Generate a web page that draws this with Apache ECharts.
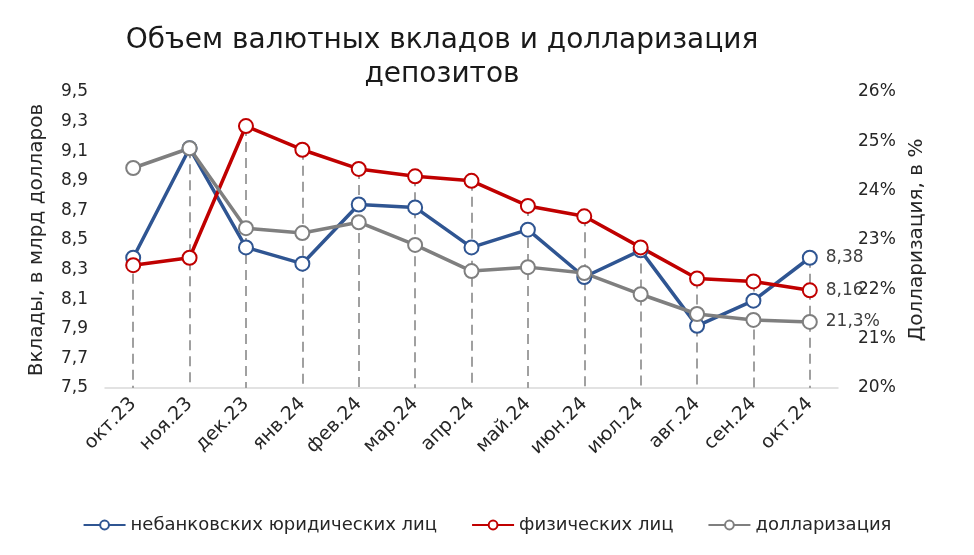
<!DOCTYPE html>
<html>
<head>
<meta charset="utf-8">
<script src="https://cdn.jsdelivr.net/npm/echarts@6/dist/echarts.min.js"></script>
<style>html,body{margin:0;padding:0;background:#fff}#c{width:974px;height:555px}</style>
</head>
<body>
<div id="c"></div>
<script>
const categories = ['окт.23','ноя.23','дек.23','янв.24','фев.24','мар.24','апр.24','май.24','июн.24','июл.24','авг.24','сен.24','окт.24'];
const legalVals = [8.38, 9.12, 8.45, 8.34, 8.74, 8.72, 8.45, 8.57, 8.25, 8.43, 7.92, 8.09, 8.38];
const individualVals = [8.33, 8.38, 9.27, 9.11, 8.98, 8.93, 8.90, 8.73, 8.66, 8.45, 8.24, 8.22, 8.16];
const dollarVals = [24.46, 24.86, 23.24, 23.14, 23.36, 22.90, 22.37, 22.45, 22.33, 21.90, 21.50, 21.38, 21.34];
const seriesNames = ['небанковских юридических лиц', 'физических лиц', 'долларизация'];
const leftTicks = {min: 7.5, max: 9.5, interval: 0.2};
const rightTicks = {min: 20, max: 26, interval: 1};

const FONT = 'DejaVu Sans';
const TXT = '#262626';
const colors = ['#2f5592', '#c00000', '#7f7f7f'];
const last = categories.length - 1;

function mkSeries(name, data, color, yIdx, fmt) {
  return {
    name: name, type: 'line', yAxisIndex: yIdx, data: data, z: 5,
    symbol: 'circle', symbolSize: 14,
    lineStyle: {color: color, width: 3.5},
    itemStyle: {color: '#fff', borderColor: color, borderWidth: 2},
    label: {
      show: true, position: 'right', distance: 8,
      fontFamily: FONT, fontSize: 17, color: '#404040',
      formatter: p => p.dataIndex === last ? fmt(p.value) : ''
    },
    emphasis: {disabled: true}
  };
}

const dropData = categories.map((c, i) => [
  {coord: [i, Math.max(legalVals[i], individualVals[i])]},
  {coord: [i, leftTicks.min]}
]);

const chart = echarts.init(document.getElementById('c'), null, {renderer: 'canvas'});
chart.setOption({
  animation: false,
  backgroundColor: '#fff',
  title: {
    text: 'Объем валютных вкладов и долларизация\nдепозитов',
    left: 437, top: 19, textAlign: 'center',
    textStyle: {fontFamily: FONT, fontSize: 28, fontWeight: 'normal', color: '#1a1a1a', lineHeight: 34}
  },
  grid: {left: 105, right: 136, top: 92, bottom: 167, containLabel: false},
  legend: {
    bottom: 16, left: 'center',
    data: seriesNames,
    itemWidth: 42, itemHeight: 11, itemGap: 34,
    textStyle: {fontFamily: FONT, fontSize: 18, color: TXT}
  },
  xAxis: {
    type: 'category', data: categories, boundaryGap: true,
    axisLine: {lineStyle: {color: '#d9d9d9', width: 1.5}},
    axisTick: {show: false},
    axisLabel: {rotate: 45, fontFamily: FONT, fontSize: 19, color: TXT, margin: 13, interval: 0}
  },
  yAxis: [{
    type: 'value', min: leftTicks.min, max: leftTicks.max, interval: leftTicks.interval,
    name: 'Вклады, в млрд долларов', nameLocation: 'middle', nameGap: 58, nameRotate: 90,
    nameTextStyle: {fontFamily: FONT, fontSize: 20, color: TXT},
    axisLine: {show: false}, axisTick: {show: false}, splitLine: {show: false},
    axisLabel: {fontFamily: FONT, fontSize: 17, color: TXT, margin: 17,
      formatter: v => v.toFixed(1).replace('.', ',')}
  }, {
    type: 'value', min: rightTicks.min, max: rightTicks.max, interval: rightTicks.interval,
    name: 'Долларизация, в %', nameLocation: 'middle', nameGap: 68, nameRotate: 90,
    nameTextStyle: {fontFamily: FONT, fontSize: 20, color: TXT},
    axisLine: {show: false}, axisTick: {show: false}, splitLine: {show: false},
    axisLabel: {fontFamily: FONT, fontSize: 17, color: TXT, margin: 20,
      formatter: v => Math.round(v) + '%'}
  }],
  series: [
    {
      name: 'drop', type: 'line', data: [], z: 1, silent: true,
      markLine: {
        silent: true, symbol: 'none', label: {show: false},
        lineStyle: {color: '#a0a0a0', width: 2, type: [10, 6]},
        emphasis: {disabled: true},
        data: dropData
      }
    },
    mkSeries(seriesNames[0], legalVals, colors[0], 0, v => v.toFixed(2).replace('.', ',')),
    mkSeries(seriesNames[1], individualVals, colors[1], 0, v => v.toFixed(2).replace('.', ',')),
    mkSeries(seriesNames[2], dollarVals, colors[2], 1, v => v.toFixed(1).replace('.', ',') + '%')
  ]
});
</script>
</body>
</html>
